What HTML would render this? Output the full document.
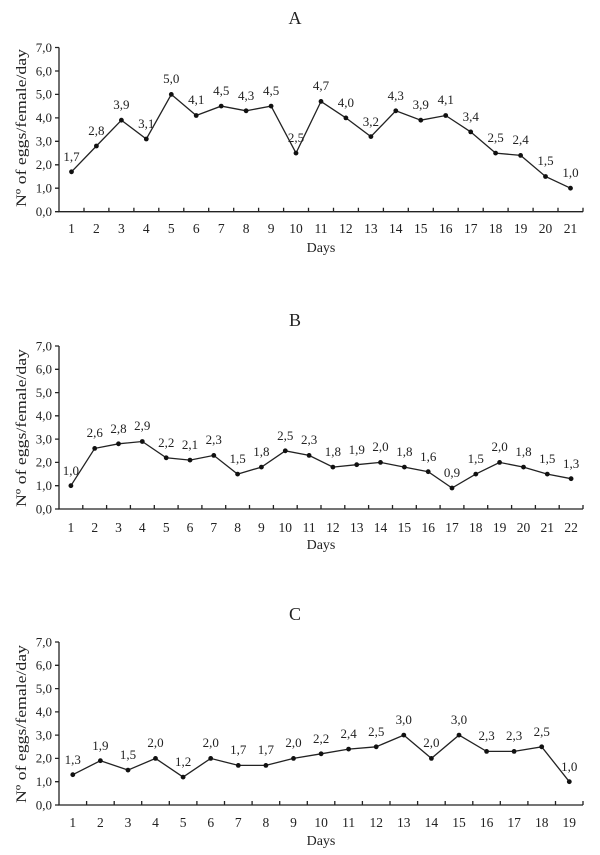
<!DOCTYPE html>
<html><head><meta charset="utf-8"><style>html,body{margin:0;padding:0;background:#fff}svg{display:block}text{font-family:"Liberation Serif","Times New Roman",Times,serif;fill:#222}</style></head><body>
<svg width="600" height="855" viewBox="0 0 600 855" xmlns="http://www.w3.org/2000/svg">
<g stroke="#222" stroke-width="1.3" fill="none">
<path d="M59,47.5V211.7H583"/>
<path d="M55,211.7H59M55,188.2H59M55,164.8H59M55,141.3H59M55,117.9H59M55,94.4H59M55,71H59M55,47.5H59"/>
<path d="M84,211.7v-4M108.9,211.7v-4M133.9,211.7v-4M158.8,211.7v-4M183.8,211.7v-4M208.7,211.7v-4M233.7,211.7v-4M258.6,211.7v-4M283.6,211.7v-4M308.5,211.7v-4M333.5,211.7v-4M358.4,211.7v-4M383.4,211.7v-4M408.3,211.7v-4M433.3,211.7v-4M458.2,211.7v-4M483.2,211.7v-4M508.1,211.7v-4M533.1,211.7v-4M558,211.7v-4M583,211.7v-4"/>
<polyline points="71.5,171.8 96.4,146 121.4,120.2 146.3,139 171.3,94.4 196.2,115.5 221.2,106.1 246.1,110.8 271.1,106.1 296,153.1 321,101.4 345.9,117.9 370.9,136.6 395.8,110.8 420.8,120.2 445.7,115.5 470.7,131.9 495.6,153.1 520.6,155.4 545.5,176.5 570.5,188.2"/>
<path d="M59,346V509H583"/>
<path d="M55,509H59M55,485.7H59M55,462.4H59M55,439.1H59M55,415.8H59M55,392.6H59M55,369.3H59M55,346H59"/>
<path d="M82.8,509v-4M106.6,509v-4M130.4,509v-4M154.3,509v-4M178.1,509v-4M201.9,509v-4M225.7,509v-4M249.5,509v-4M273.4,509v-4M297.2,509v-4M321,509v-4M344.8,509v-4M368.6,509v-4M392.5,509v-4M416.3,509v-4M440.1,509v-4M463.9,509v-4M487.7,509v-4M511.6,509v-4M535.4,509v-4M559.2,509v-4M583,509v-4"/>
<polyline points="70.9,485.7 94.7,448.4 118.5,443.8 142.3,441.5 166.2,457.8 190,460.1 213.8,455.4 237.6,474.1 261.4,467.1 285.3,450.8 309.1,455.4 332.9,467.1 356.7,464.7 380.5,462.4 404.4,467.1 428.2,471.7 452,488 475.8,474.1 499.6,462.4 523.5,467.1 547.3,474.1 571.1,478.7"/>
<path d="M59,642V805H583"/>
<path d="M55,805H59M55,781.7H59M55,758.4H59M55,735.1H59M55,711.9H59M55,688.6H59M55,665.3H59M55,642H59"/>
<path d="M86.6,805v-4M114.2,805v-4M141.7,805v-4M169.3,805v-4M196.9,805v-4M224.5,805v-4M252.1,805v-4M279.7,805v-4M307.3,805v-4M334.8,805v-4M362.4,805v-4M390,805v-4M417.6,805v-4M445.2,805v-4M472.8,805v-4M500.3,805v-4M527.9,805v-4M555.5,805v-4M583,805v-4"/>
<polyline points="72.8,774.7 100.4,760.7 128,770.1 155.5,758.4 183.1,777.1 210.7,758.4 238.3,765.4 265.9,765.4 293.5,758.4 321.1,753.8 348.6,749.1 376.2,746.8 403.8,735.1 431.4,758.4 459,735.1 486.6,751.4 514.1,751.4 541.7,746.8 569.3,781.7"/>
</g>
<g fill="#111">
<circle cx="71.5" cy="171.8" r="2.4"/><circle cx="96.4" cy="146" r="2.4"/><circle cx="121.4" cy="120.2" r="2.4"/><circle cx="146.3" cy="139" r="2.4"/><circle cx="171.3" cy="94.4" r="2.4"/><circle cx="196.2" cy="115.5" r="2.4"/><circle cx="221.2" cy="106.1" r="2.4"/><circle cx="246.1" cy="110.8" r="2.4"/><circle cx="271.1" cy="106.1" r="2.4"/><circle cx="296" cy="153.1" r="2.4"/><circle cx="321" cy="101.4" r="2.4"/><circle cx="345.9" cy="117.9" r="2.4"/><circle cx="370.9" cy="136.6" r="2.4"/><circle cx="395.8" cy="110.8" r="2.4"/><circle cx="420.8" cy="120.2" r="2.4"/><circle cx="445.7" cy="115.5" r="2.4"/><circle cx="470.7" cy="131.9" r="2.4"/><circle cx="495.6" cy="153.1" r="2.4"/><circle cx="520.6" cy="155.4" r="2.4"/><circle cx="545.5" cy="176.5" r="2.4"/><circle cx="570.5" cy="188.2" r="2.4"/>
<circle cx="70.9" cy="485.7" r="2.4"/><circle cx="94.7" cy="448.4" r="2.4"/><circle cx="118.5" cy="443.8" r="2.4"/><circle cx="142.3" cy="441.5" r="2.4"/><circle cx="166.2" cy="457.8" r="2.4"/><circle cx="190" cy="460.1" r="2.4"/><circle cx="213.8" cy="455.4" r="2.4"/><circle cx="237.6" cy="474.1" r="2.4"/><circle cx="261.4" cy="467.1" r="2.4"/><circle cx="285.3" cy="450.8" r="2.4"/><circle cx="309.1" cy="455.4" r="2.4"/><circle cx="332.9" cy="467.1" r="2.4"/><circle cx="356.7" cy="464.7" r="2.4"/><circle cx="380.5" cy="462.4" r="2.4"/><circle cx="404.4" cy="467.1" r="2.4"/><circle cx="428.2" cy="471.7" r="2.4"/><circle cx="452" cy="488" r="2.4"/><circle cx="475.8" cy="474.1" r="2.4"/><circle cx="499.6" cy="462.4" r="2.4"/><circle cx="523.5" cy="467.1" r="2.4"/><circle cx="547.3" cy="474.1" r="2.4"/><circle cx="571.1" cy="478.7" r="2.4"/>
<circle cx="72.8" cy="774.7" r="2.4"/><circle cx="100.4" cy="760.7" r="2.4"/><circle cx="128" cy="770.1" r="2.4"/><circle cx="155.5" cy="758.4" r="2.4"/><circle cx="183.1" cy="777.1" r="2.4"/><circle cx="210.7" cy="758.4" r="2.4"/><circle cx="238.3" cy="765.4" r="2.4"/><circle cx="265.9" cy="765.4" r="2.4"/><circle cx="293.5" cy="758.4" r="2.4"/><circle cx="321.1" cy="753.8" r="2.4"/><circle cx="348.6" cy="749.1" r="2.4"/><circle cx="376.2" cy="746.8" r="2.4"/><circle cx="403.8" cy="735.1" r="2.4"/><circle cx="431.4" cy="758.4" r="2.4"/><circle cx="459" cy="735.1" r="2.4"/><circle cx="486.6" cy="751.4" r="2.4"/><circle cx="514.1" cy="751.4" r="2.4"/><circle cx="541.7" cy="746.8" r="2.4"/><circle cx="569.3" cy="781.7" r="2.4"/>
</g>
<g font-size="18" text-anchor="middle">
<text x="295" y="24">A</text><text x="295" y="326">B</text><text x="295" y="620">C</text>
</g>
<g font-size="15" text-anchor="middle">
<text transform="translate(26,128) rotate(-90)" textLength="158" lengthAdjust="spacingAndGlyphs">Nº of eggs/female/day</text>
<text transform="translate(26,428) rotate(-90)" textLength="158" lengthAdjust="spacingAndGlyphs">Nº of eggs/female/day</text>
<text transform="translate(26,724) rotate(-90)" textLength="158" lengthAdjust="spacingAndGlyphs">Nº of eggs/female/day</text>
</g>
<g font-size="14" text-anchor="middle">
<text x="321" y="252">Days</text><text x="321" y="549">Days</text><text x="321" y="845">Days</text>
</g>
<g font-size="13" text-anchor="end">
<text x="52" y="216">0,0</text><text x="52" y="192.5">1,0</text><text x="52" y="169">2,0</text><text x="52" y="145.6">3,0</text><text x="52" y="122.2">4,0</text><text x="52" y="98.7">5,0</text><text x="52" y="75.3">6,0</text><text x="52" y="51.8">7,0</text>
<text x="52" y="513.3">0,0</text><text x="52" y="490">1,0</text><text x="52" y="466.7">2,0</text><text x="52" y="443.4">3,0</text><text x="52" y="420.1">4,0</text><text x="52" y="396.9">5,0</text><text x="52" y="373.6">6,0</text><text x="52" y="350.3">7,0</text>
<text x="52" y="809.3">0,0</text><text x="52" y="786">1,0</text><text x="52" y="762.7">2,0</text><text x="52" y="739.4">3,0</text><text x="52" y="716.2">4,0</text><text x="52" y="692.9">5,0</text><text x="52" y="669.6">6,0</text><text x="52" y="646.3">7,0</text>
</g>
<g font-size="13.5" text-anchor="middle">
<text x="71.5" y="233">1</text><text x="96.4" y="233">2</text><text x="121.4" y="233">3</text><text x="146.3" y="233">4</text><text x="171.3" y="233">5</text><text x="196.2" y="233">6</text><text x="221.2" y="233">7</text><text x="246.1" y="233">8</text><text x="271.1" y="233">9</text><text x="296" y="233">10</text><text x="321" y="233">11</text><text x="345.9" y="233">12</text><text x="370.9" y="233">13</text><text x="395.8" y="233">14</text><text x="420.8" y="233">15</text><text x="445.7" y="233">16</text><text x="470.7" y="233">17</text><text x="495.6" y="233">18</text><text x="520.6" y="233">19</text><text x="545.5" y="233">20</text><text x="570.5" y="233">21</text>
<text x="70.9" y="532">1</text><text x="94.7" y="532">2</text><text x="118.5" y="532">3</text><text x="142.3" y="532">4</text><text x="166.2" y="532">5</text><text x="190" y="532">6</text><text x="213.8" y="532">7</text><text x="237.6" y="532">8</text><text x="261.4" y="532">9</text><text x="285.3" y="532">10</text><text x="309.1" y="532">11</text><text x="332.9" y="532">12</text><text x="356.7" y="532">13</text><text x="380.5" y="532">14</text><text x="404.4" y="532">15</text><text x="428.2" y="532">16</text><text x="452" y="532">17</text><text x="475.8" y="532">18</text><text x="499.6" y="532">19</text><text x="523.5" y="532">20</text><text x="547.3" y="532">21</text><text x="571.1" y="532">22</text>
<text x="72.8" y="827">1</text><text x="100.4" y="827">2</text><text x="128" y="827">3</text><text x="155.5" y="827">4</text><text x="183.1" y="827">5</text><text x="210.7" y="827">6</text><text x="238.3" y="827">7</text><text x="265.9" y="827">8</text><text x="293.5" y="827">9</text><text x="321.1" y="827">10</text><text x="348.6" y="827">11</text><text x="376.2" y="827">12</text><text x="403.8" y="827">13</text><text x="431.4" y="827">14</text><text x="459" y="827">15</text><text x="486.6" y="827">16</text><text x="514.1" y="827">17</text><text x="541.7" y="827">18</text><text x="569.3" y="827">19</text>
</g>
<g font-size="13" text-anchor="middle">
<text x="71.5" y="161">1,7</text><text x="96.4" y="135">2,8</text><text x="121.4" y="109">3,9</text><text x="146.3" y="128">3,1</text><text x="171.3" y="83">5,0</text><text x="196.2" y="104">4,1</text><text x="221.2" y="95">4,5</text><text x="246.1" y="100">4,3</text><text x="271.1" y="95">4,5</text><text x="296" y="142">2,5</text><text x="321" y="90">4,7</text><text x="345.9" y="107">4,0</text><text x="370.9" y="126">3,2</text><text x="395.8" y="100">4,3</text><text x="420.8" y="109">3,9</text><text x="445.7" y="104">4,1</text><text x="470.7" y="121">3,4</text><text x="495.6" y="142">2,5</text><text x="520.6" y="144">2,4</text><text x="545.5" y="165">1,5</text><text x="570.5" y="177">1,0</text>
<text x="70.9" y="475">1,0</text><text x="94.7" y="437">2,6</text><text x="118.5" y="433">2,8</text><text x="142.3" y="430">2,9</text><text x="166.2" y="447">2,2</text><text x="190" y="449">2,1</text><text x="213.8" y="444">2,3</text><text x="237.6" y="463">1,5</text><text x="261.4" y="456">1,8</text><text x="285.3" y="440">2,5</text><text x="309.1" y="444">2,3</text><text x="332.9" y="456">1,8</text><text x="356.7" y="454">1,9</text><text x="380.5" y="451">2,0</text><text x="404.4" y="456">1,8</text><text x="428.2" y="461">1,6</text><text x="452" y="477">0,9</text><text x="475.8" y="463">1,5</text><text x="499.6" y="451">2,0</text><text x="523.5" y="456">1,8</text><text x="547.3" y="463">1,5</text><text x="571.1" y="468">1,3</text>
<text x="72.8" y="764">1,3</text><text x="100.4" y="750">1,9</text><text x="128" y="759">1,5</text><text x="155.5" y="747">2,0</text><text x="183.1" y="766">1,2</text><text x="210.7" y="747">2,0</text><text x="238.3" y="754">1,7</text><text x="265.9" y="754">1,7</text><text x="293.5" y="747">2,0</text><text x="321.1" y="743">2,2</text><text x="348.6" y="738">2,4</text><text x="376.2" y="736">2,5</text><text x="403.8" y="724">3,0</text><text x="431.4" y="747">2,0</text><text x="459" y="724">3,0</text><text x="486.6" y="740">2,3</text><text x="514.1" y="740">2,3</text><text x="541.7" y="736">2,5</text><text x="569.3" y="771">1,0</text>
</g>
</svg>
</body></html>
